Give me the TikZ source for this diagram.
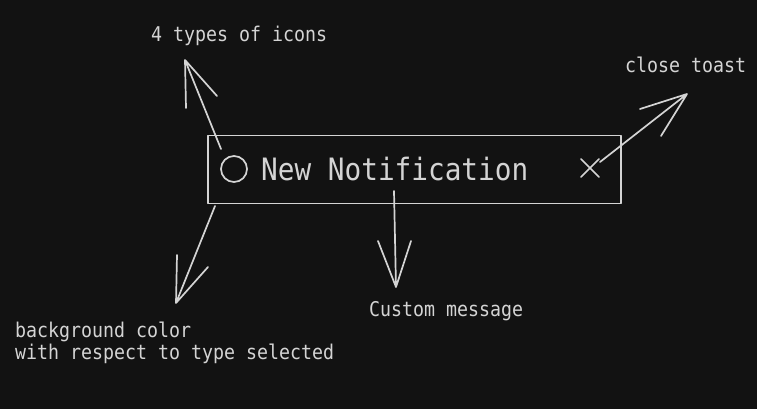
\documentclass[tikz,border=0pt]{standalone}
\usepackage{fontspec}
\usetikzlibrary{calc}
\newfontfamily\monof[FakeStretch=0.9]{DejaVu Sans Mono}
\definecolor{bgc}{HTML}{121212}
\definecolor{ink}{HTML}{D4D4D4}
\begin{document}
\begin{tikzpicture}[x=1pt,y=-1pt,
  stroke/.style={draw=ink,line width=1.7pt,line cap=round,line join=round},
  lbl/.style={text=ink,inner sep=0pt,anchor=base west,font=\monof\fontsize{20.3}{24}\selectfont},
  big/.style={text=ink,inner sep=0pt,anchor=base west,font=\monof\fontsize{30.8}{36}\selectfont}]
\fill[bgc] (0,0) rectangle (757,409);
\useasboundingbox (0,0) rectangle (757,409);
% toast box
\node[stroke,rectangle,minimum width=413pt,minimum height=68pt,inner sep=0pt,anchor=north west] (box) at (207,134.5) {};
\node[stroke,circle,minimum size=26pt,inner sep=0pt] (icon) at (234,169) {};
\node[big] (title) at (261,180) {New Notification};
\coordinate (xc) at (590,168);
\draw[stroke] ($(xc)+(-9,-9)$) -- ($(xc)+(9,9)$) ($(xc)+(-9,9)$) -- ($(xc)+(9,-9)$);
% labels
\node[lbl] (types) at (151,42) {4 types of icons};
\node[lbl] (close) at (625,73) {close toast};
\node[lbl] (bg1) at (15,337) {background color};
\node[lbl] (bg2) at (15,359) {with respect to type selected};
\node[lbl] (msg) at (369,316) {Custom message};
% arrow endpoints
\coordinate (a1s) at (221,149); \coordinate (a1t) at (185,60);
\coordinate (a2s) at (600,162); \coordinate (a2t) at (687,94);
\coordinate (a3s) at (215,206); \coordinate (a3t) at (176,303);
\coordinate (a4s) at (394,191); \coordinate (a4t) at (396,287);
\draw[stroke] (a1s) -- (a1t) -- ++(1,48) (a1t) -- ++(32,36);
\draw[stroke] (a2s) -- (a2t) -- ++(-47,15) (a2t) -- ++(-26,42);
\draw[stroke] (a3s) -- (a3t) -- ++(1,-48) (a3t) -- ++(32,-36);
\draw[stroke] (a4s) -- (a4t) -- ++(-18,-46) (a4t) -- ++(15,-46);
\end{tikzpicture}
\end{document}
